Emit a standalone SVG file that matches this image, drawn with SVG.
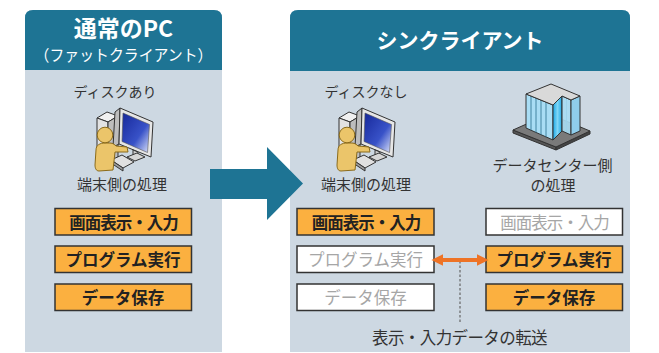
<svg xmlns="http://www.w3.org/2000/svg" xmlns:xlink="http://www.w3.org/1999/xlink" width="659" height="353" viewBox="0 0 659 353">
  <style>
    text { font-family: "Noto Sans CJK JP", "Noto Sans", sans-serif; text-anchor: middle; }
    .panel { fill: #CDD8E2; }
    .head { fill: #1E7494; }
    .title { fill: #FFFFFF; font-weight: bold; }
    .sub { fill: #FFFFFF; font-size: 15.5px; }
    .label { fill: #333333; font-size: 15px; }
    .small { fill: #333333; font-size: 14px; }
    .box { stroke: #333333; stroke-width: 1.5; }
    .on { fill: #FBB040; }
    .off { fill: #FFFFFF; }
    .on-t { fill: #222222; font-size: 16.5px; font-weight: bold; }
    .off-t { fill: #A6A6A6; font-size: 16.5px; }
    .tight { letter-spacing: -1px; }
    .ln { stroke: #333333; stroke-width: 1; stroke-linejoin: round; }
  </style>
  <defs>
    <linearGradient id="screen" x1="0" y1="0" x2="1" y2="1">
      <stop offset="0" stop-color="#17289A"/>
      <stop offset="0.6" stop-color="#3852C8"/>
      <stop offset="1" stop-color="#DDE4FA"/>
    </linearGradient>
    <linearGradient id="glass" x1="0" y1="0" x2="1" y2="0">
      <stop offset="0" stop-color="#1BA8E6"/>
      <stop offset="0.5" stop-color="#7FD6F6"/>
      <stop offset="1" stop-color="#1BA8E6"/>
    </linearGradient>
    <marker id="tip" viewBox="0 0 10 10" refX="2" refY="5" markerWidth="3" markerHeight="3" orient="auto-start-reverse" markerUnits="strokeWidth">
      <path d="M0,0 L10,5 L0,10 Z" fill="#EE7326"/>
    </marker>
    <!-- workstation: tower, monitor, keyboard and user -->
    <g id="pc">
      <polygon class="ln" points="97,118 107,112 118,116 108,122" fill="#F0F0F0"/>
      <polygon class="ln" points="97,118 108,122 108,168 97,164" fill="#E2E2E2"/>
      <polygon class="ln" points="108,122 118,116 118,160 108,168" fill="#BDBDBD"/>
      <polygon class="ln" points="115,112 120,108 119,144 113,147" fill="#BDBDBD"/>
      <polygon class="ln" points="120,108 153,122 151,157 119,144" fill="#E6E6E6"/>
      <polygon points="123,113 149.5,124.5 147.5,152.5 122,141.5" fill="url(#screen)" stroke="#555" stroke-width="0.6"/>
      <polygon class="ln" points="133,150 138,152 137,158 133,156" fill="#CFCFCF"/>
      <polygon class="ln" points="127,157 137,153 145,157 135,161" fill="#D6D6D6"/>
      <polygon class="ln" points="111,160 122,155 134,162 123,168" fill="#E0E0E0"/>
      <polygon class="ln" points="111,160 123,168 123,171 111,163" fill="#9E9E9E"/>
      <path d="M96,150 C96,145 100,143 105,143 L110,143 C113,143 115,145 116,146 L127,147 L128,152 L115,152 L113,170 L99,171 C96,171 95,168 95,165 Z" fill="#EBC56A" stroke="#8B6B1A" stroke-width="1"/>
      <circle cx="105" cy="135" r="7.8" fill="#EBC56A" stroke="#8B6B1A" stroke-width="1"/>
    </g>
  </defs>

  <!-- left column: fat client -->
  <g id="fat-client">
    <path class="panel" d="M25,18 Q25,10 33,10 L214,10 Q222,10 222,18 L222,352 L25,352 Z"/>
    <path class="head" d="M25,18 Q25,10 33,10 L214,10 Q222,10 222,18 L222,70 L25,70 Z"/>
    <text class="title" x="123.5" y="37" font-size="23">通常のPC</text>
    <text class="sub" x="123.5" y="60.5" textLength="178" lengthAdjust="spacingAndGlyphs">（ファットクライアント）</text>
  </g>

  <g id="fat-pc">
    <text class="small" x="115" y="97">ディスクあり</text>
    <use xlink:href="#pc"/>
    <text class="label" x="122" y="190">端末側の処理</text>
  </g>

  <g id="fat-display">
    <rect class="box on" x="55" y="208.5" width="136.5" height="26.5"/>
    <text class="on-t tight" x="123.5" y="228.5">画面表示・入力</text>
  </g>
  <g id="fat-program">
    <rect class="box on" x="55" y="246" width="136.5" height="26.5"/>
    <text class="on-t" x="123" y="266">プログラム実行</text>
  </g>
  <g id="fat-data">
    <rect class="box on" x="55" y="284" width="136.5" height="26.5"/>
    <text class="on-t" x="123" y="304">データ保存</text>
  </g>

  <!-- right column: thin client -->
  <g id="thin-client">
    <path class="panel" d="M290,18 Q290,10 298,10 L622,10 Q630,10 630,18 L630,352 L290,352 Z"/>
    <path class="head" d="M290,18 Q290,10 298,10 L622,10 Q630,10 630,18 L630,71 L290,71 Z"/>
    <text class="title" x="460" y="48" font-size="21">シンクライアント</text>
  </g>

  <g id="thin-pc">
    <text class="small" x="366" y="97">ディスクなし</text>
    <use xlink:href="#pc" transform="translate(242,0)"/>
    <text class="label" x="366" y="190">端末側の処理</text>
  </g>

  <g id="datacenter">
    <polygon class="ln" points="513,130 556,147 556,150 513,133" fill="#555555"/>
    <polygon class="ln" points="556,147 590,131 590,134 556,150" fill="#444444"/>
    <polygon class="ln" points="513,130 549,114 590,131 556,147" fill="#7A7A7A"/>
    <polygon class="ln" points="526,94 553,105 553,140 526,128" fill="#A9DDF4"/>
    <g stroke="#2A6F8E" stroke-width="0.8">
      <line x1="531" y1="96" x2="531" y2="130.3"/>
      <line x1="536" y1="98.1" x2="536" y2="132.6"/>
      <line x1="541" y1="100.1" x2="541" y2="134.9"/>
      <line x1="546" y1="102.2" x2="546" y2="137.2"/>
      <line x1="575" y1="98.3" x2="575" y2="133.2"/>
      <line x1="566.5" y1="97.8" x2="566.5" y2="133"/>
    </g>
    <polygon class="ln" points="553,105 562,96 562,131 553,140" fill="url(#glass)"/>
    <polygon class="ln" points="562,96 571,100 571,135 562,131" fill="#A9DDF4" fill-opacity="0.9"/>
    <polygon class="ln" points="571,100 580,96 580,131 571,135" fill="#8FCDEB"/>
    <polygon class="ln" points="526,94 551,84 580,96 571,100 562,96 553,105" fill="#D9D9D9"/>
    <text class="label" x="552.5" y="171">データセンター側</text>
    <text class="label" x="553" y="190.5">の処理</text>
  </g>

  <g id="thin-display">
    <rect class="box on" x="297" y="208.5" width="137" height="26.5"/>
    <text class="on-t tight" x="366" y="228.5">画面表示・入力</text>
  </g>
  <g id="thin-program">
    <rect class="box off" x="297" y="246" width="137" height="26.5"/>
    <text class="off-t" x="365.5" y="266">プログラム実行</text>
  </g>
  <g id="thin-data">
    <rect class="box off" x="297" y="284" width="137" height="26.5"/>
    <text class="off-t" x="365.5" y="304">データ保存</text>
  </g>

  <g id="dc-display">
    <rect class="box off" x="486" y="208.5" width="136.5" height="26.5"/>
    <text class="off-t tight" x="554.5" y="228.5">画面表示・入力</text>
  </g>
  <g id="dc-program">
    <rect class="box on" x="486" y="246" width="136.5" height="26.5"/>
    <text class="on-t" x="554" y="266">プログラム実行</text>
  </g>
  <g id="dc-data">
    <rect class="box on" x="486" y="284" width="136.5" height="26.5"/>
    <text class="on-t" x="554" y="304">データ保存</text>
  </g>

  <g id="transfer-label">
    <text x="459.5" y="344" font-size="16.5" fill="#333333" letter-spacing="-0.6">表示・入力データの転送</text>
  </g>

  <!-- connectors -->
  <g id="connectors">
    <polygon points="210,169 267,169 267,147 303,183.5 267,220 267,199 210,199" fill="#1E7494"/>
    <line x1="460" y1="261" x2="460" y2="324" stroke="#666666" stroke-width="1.2" stroke-dasharray="2.5,2"/>
    <line x1="441" y1="260" x2="479" y2="260" stroke="#EE7326" stroke-width="4" marker-start="url(#tip)" marker-end="url(#tip)"/>
  </g>
</svg>
